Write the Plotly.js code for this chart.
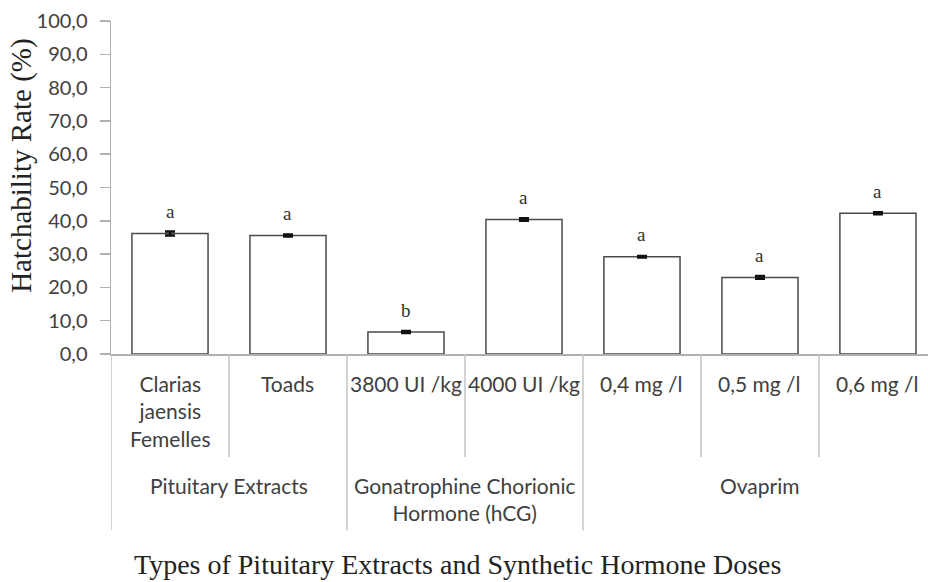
<!DOCTYPE html>
<html>
<head>
<meta charset="utf-8">
<script src="https://cdn.plot.ly/plotly-3.0.1.min.js"></script>
<style>html,body{margin:0;padding:0;background:#fff}#chart{width:928px;height:582px}</style>
</head>
<body>
<div id="chart"></div>
<script>
// ---- data ----
var groups = ["Pituitary Extracts", "Gonatrophine Chorionic<br>Hormone (hCG)", "Ovaprim"];
var groupSizes = [2, 2, 3];
var subcats = ["Clarias<br>jaensis<br>Femelles", "Toads", "3800 UI /kg", "4000 UI /kg", "0,4 mg /l", "0,5 mg /l", "0,6 mg /l"];
var values = [36.2, 35.6, 6.6, 40.4, 29.2, 23.0, 42.3];
var errors = [0.6, 0.3, 0.3, 0.4, 0.2, 0.4, 0.3];
var letters = ["a", "a", "b", "a", "a", "a", "a"];
var yTitle = "Hatchability Rate (%)";
var xTitle = "Types of Pituitary Extracts and Synthetic Hormone Doses";

var idx = subcats.map(function(_, i){ return i; });

var trace = {
  type: "bar",
  x: idx,
  y: values,
  width: 0.645,
  marker: {color: "#ffffff", line: {color: "#4a4a4a", width: 1.5}},
  error_y: {type: "data", array: errors, visible: true, color: "#111111", thickness: 2.5, width: 5},
  hoverinfo: "skip"
};

var labelFont = {family: "Lato, 'Open Sans', sans-serif", size: 21, color: "#404040"};
var serif = "'Liberation Serif', 'Times New Roman', serif";
var annotations = [];
var shapes = [];

// significance letters
idx.forEach(function(i){
  annotations.push({x: i, y: values[i], xref: "x", yref: "y", text: letters[i], showarrow: false,
    yanchor: "middle", yshift: 22, font: {family: serif, size: 19, color: "#333333"}});
});
// sub-category labels
idx.forEach(function(i){
  annotations.push({x: i, y: 0, xref: "x", yref: "paper", text: subcats[i], showarrow: false,
    yanchor: "top", yshift: -15, font: labelFont});
});
// group labels and separators
var start = 0;
groups.forEach(function(g, gi){
  var n = groupSizes[gi];
  var center = start + (n - 1) / 2;
  annotations.push({x: center, y: 0, xref: "x", yref: "paper", text: g, showarrow: false,
    yanchor: "top", yshift: -117, font: labelFont});
  shapes.push({type: "line", xref: "x", yref: "paper", x0: start - 0.5, x1: start - 0.5, y0: 0, y1: -0.529,
    line: {color: "#c4c4c4", width: 1.5}});
  for (var k = 1; k < n; k++) {
    shapes.push({type: "line", xref: "x", yref: "paper", x0: start + k - 0.5, x1: start + k - 0.5, y0: 0, y1: -0.309,
      line: {color: "#c4c4c4", width: 1.5}});
  }
  start += n;
});
// axis titles
annotations.push({x: 0, y: 0.565, xref: "paper", yref: "paper", xshift: -89, text: yTitle, textangle: -90,
  xanchor: "center", yanchor: "middle",
  showarrow: false, font: {family: serif, size: 29, color: "#222222"}});
annotations.push({x: 0, y: 0, xref: "paper", yref: "paper", xshift: 346, yshift: -210, text: xTitle,
  showarrow: false, xanchor: "center", yanchor: "middle",
  font: {family: serif, size: 28, color: "#222222"}});

var layout = {
  width: 928, height: 582,
  margin: {l: 111, r: 0, t: 21, b: 228},
  paper_bgcolor: "#ffffff", plot_bgcolor: "#ffffff",
  separators: ",.",
  showlegend: false,
  xaxis: {range: [-0.5, 6.424], showticklabels: false, ticks: "", showgrid: false, zeroline: false,
    showline: true, linecolor: "#b0b0b0", linewidth: 1.5, fixedrange: true},
  yaxis: {range: [0, 100], dtick: 10, tick0: 0, tickformat: ".1f", ticks: "outside", ticklen: 10,
    tickcolor: "#b0b0b0", tickwidth: 1.5, showline: true, linecolor: "#b0b0b0", linewidth: 1.5,
    showgrid: false, zeroline: false, ticklabelstandoff: 8,
    tickfont: {family: "Lato, 'Open Sans', sans-serif", size: 20, color: "#404040"}, fixedrange: true},
  annotations: annotations,
  shapes: shapes
};

Plotly.newPlot("chart", [trace], layout, {displayModeBar: false, staticPlot: true});
</script>
</body>
</html>
